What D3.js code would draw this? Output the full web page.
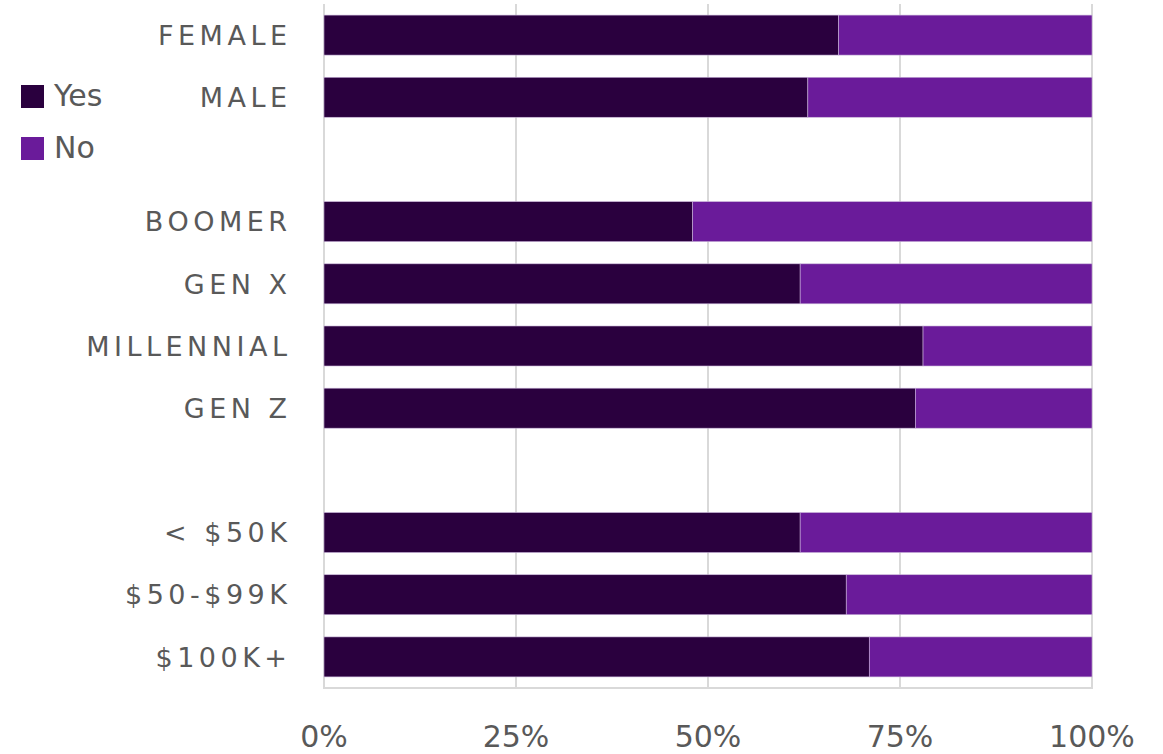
<!DOCTYPE html>
<html>
<head>
<meta charset="utf-8">
<script src="https://cdn.jsdelivr.net/npm/d3@7"></script>
<style>
  html, body { margin: 0; padding: 0; background: #fff; }
  svg { display: block; }
</style>
</head>
<body>
<svg id="chart" width="1163" height="754"></svg>
<script>
// Row labels top to bottom; empty strings are spacer rows between groups
const categories = ["FEMALE", "MALE", "", "BOOMER", "GEN X", "MILLENNIAL", "GEN Z", "", "< $50K", "$50-$99K", "$100K+"];
// Share answering "Yes" (percent); "No" is the remainder to 100
const yesValues = [67, 63, null, 48, 62, 78, 77, null, 62, 68, 71];
const noValues  = [33, 37, null, 52, 38, 22, 23, null, 38, 32, 29];
const tickValues = [0, 25, 50, 75, 100];
const seriesNames = ["Yes", "No"];
const seriesColors = ["#2a003e", "#6a1b9a"];

const svg = d3.select("#chart");
const plot = { left: 324, right: 1092, top: 4, bottom: 688 };
const fontFamily = "'DejaVu Sans', Verdana, sans-serif";
const textColor = "#595959";

const x = d3.scaleLinear().domain([0, 100]).range([plot.left, plot.right]);
const y = d3.scaleBand()
  .domain(d3.range(categories.length))
  .range([plot.top, plot.bottom])
  .paddingInner(0.357)
  .paddingOuter(0.1785);

// Vertical gridlines
svg.append("g")
  .selectAll("line")
  .data(tickValues)
  .join("line")
  .attr("x1", d => x(d)).attr("x2", d => x(d))
  .attr("y1", plot.top).attr("y2", plot.bottom)
  .attr("stroke", "#d9d9d9")
  .attr("stroke-width", 2);

// Bottom baseline
svg.append("line")
  .attr("x1", x(0) - 1).attr("x2", x(100) + 1)
  .attr("y1", plot.bottom).attr("y2", plot.bottom)
  .attr("stroke", "#d9d9d9").attr("stroke-width", 2);

// Stacked bars
const rows = categories.map((c, i) => ({ i, yes: yesValues[i], no: noValues[i] }))
  .filter(r => r.yes !== null);

const bars = svg.append("g");
bars.selectAll("rect.yes")
  .data(rows)
  .join("rect")
  .attr("class", "yes")
  .attr("x", x(0))
  .attr("y", d => y(d.i))
  .attr("width", d => x(d.yes) - x(0))
  .attr("height", y.bandwidth())
  .attr("fill", seriesColors[0])
  .attr("stroke", "#c9b3d9").attr("stroke-width", 0.6);

bars.selectAll("rect.no")
  .data(rows)
  .join("rect")
  .attr("class", "no")
  .attr("x", d => x(d.yes))
  .attr("y", d => y(d.i))
  .attr("width", d => x(d.yes + d.no) - x(d.yes))
  .attr("height", y.bandwidth())
  .attr("fill", seriesColors[1])
  .attr("stroke", "#c9b3d9").attr("stroke-width", 0.6);

// Category labels (letter-spaced capitals)
svg.append("g")
  .selectAll("text")
  .data(rows)
  .join("text")
  .attr("x", 291.5)
  .attr("y", d => y(d.i) + y.bandwidth() / 2)
  .attr("dy", "0.36em")
  .attr("text-anchor", "end")
  .attr("font-family", fontFamily)
  .attr("font-size", 27)
  .attr("letter-spacing", 4.5)
  .attr("fill", textColor)
  .text(d => categories[d.i]);

// X axis tick labels
svg.append("g")
  .selectAll("text")
  .data(tickValues)
  .join("text")
  .attr("x", d => x(d))
  .attr("y", 747)
  .attr("text-anchor", "middle")
  .attr("font-family", fontFamily)
  .attr("font-size", 30)
  .attr("fill", textColor)
  .text(d => d + "%");

// Legend
const legend = svg.append("g")
  .selectAll("g")
  .data(seriesNames)
  .join("g")
  .attr("transform", (d, i) => `translate(21, ${85 + i * 52})`);
legend.append("rect")
  .attr("width", 23).attr("height", 23)
  .attr("fill", (d, i) => seriesColors[i]);
legend.append("text")
  .attr("x", 33).attr("y", 20.5)
  .attr("font-family", fontFamily)
  .attr("font-size", 30)
  .attr("fill", textColor)
  .text(d => d);
</script>
</body>
</html>
